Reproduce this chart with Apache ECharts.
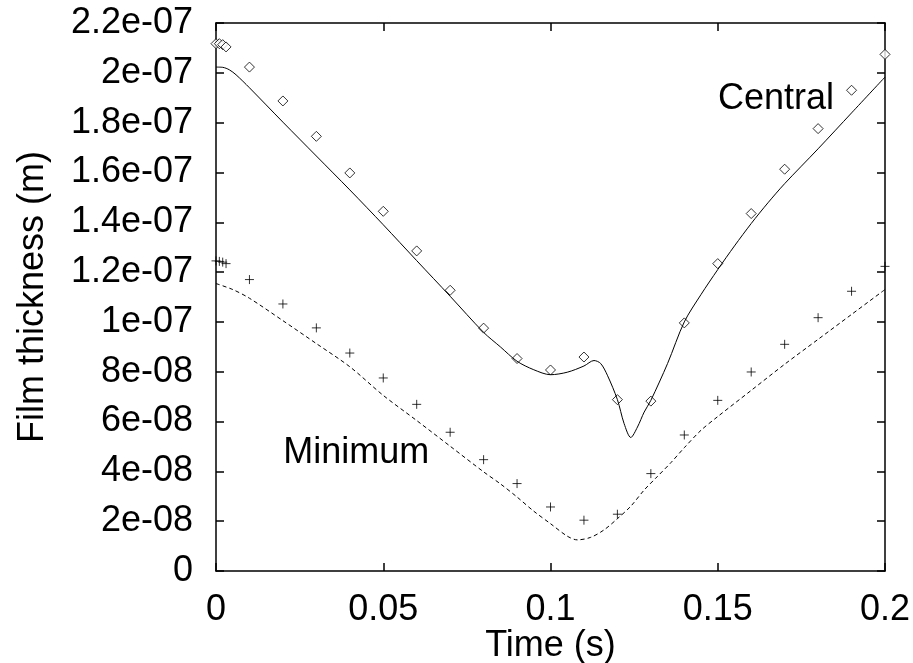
<!DOCTYPE html>
<html>
<head>
<meta charset="utf-8">
<script src="https://cdn.jsdelivr.net/npm/echarts@6/dist/echarts.min.js"></script>
<style>
  html, body { margin: 0; padding: 0; background: #fff; }
  #chart { width: 913px; height: 663px; }
</style>
</head>
<body>
<div id="chart"></div>
<script>
// measured points (diamonds / crosses), time in s, thickness in m
const pointTimes = [0, 0.001, 0.002, 0.003, 0.01, 0.02, 0.03, 0.04, 0.05, 0.06, 0.07, 0.08,
  0.09, 0.1, 0.11, 0.12, 0.13, 0.14, 0.15, 0.16, 0.17, 0.18, 0.19, 0.2];
const centralPoints = [21.17e-8, 21.17e-8, 21.13e-8, 21.04e-8, 20.23e-8, 18.87e-8, 17.45e-8, 15.98e-8,
  14.44e-8, 12.85e-8, 11.27e-8, 9.75e-8, 8.53e-8, 8.07e-8, 8.59e-8, 6.88e-8, 6.82e-8, 9.96e-8,
  12.34e-8, 14.35e-8, 16.13e-8, 17.76e-8, 19.3e-8, 20.74e-8];
const minimumPoints = [12.45e-8, 12.43e-8, 12.4e-8, 12.34e-8, 11.7e-8, 10.72e-8, 9.76e-8, 8.75e-8,
  7.75e-8, 6.69e-8, 5.57e-8, 4.47e-8, 3.51e-8, 2.57e-8, 2.04e-8, 2.28e-8, 3.91e-8, 5.46e-8,
  6.85e-8, 7.99e-8, 9.1e-8, 10.17e-8, 11.23e-8, 12.23e-8];

// computed curves
const centralTimes = [0, 0.002, 0.004, 0.006, 0.01, 0.02, 0.03, 0.04, 0.05, 0.06, 0.07, 0.08, 0.085,
  0.09, 0.095, 0.1, 0.105, 0.11, 0.113, 0.115, 0.117, 0.12, 0.122, 0.124, 0.126, 0.128, 0.13,
  0.135, 0.14, 0.145, 0.15, 0.155, 0.16, 0.165, 0.17, 0.18, 0.19, 0.2];
const centralCurve = [20.23e-8, 20.22e-8, 20.12e-8, 19.92e-8, 19.4e-8, 18.02e-8, 16.66e-8, 15.3e-8,
  13.9e-8, 12.46e-8, 11.03e-8, 9.58e-8, 9.0e-8, 8.42e-8, 8.08e-8, 7.88e-8, 7.98e-8, 8.23e-8,
  8.45e-8, 8.33e-8, 7.86e-8, 6.88e-8, 5.92e-8, 5.36e-8, 5.78e-8, 6.38e-8, 6.85e-8, 8.33e-8,
  10.0e-8, 11.1e-8, 12.1e-8, 13.05e-8, 13.95e-8, 14.78e-8, 15.55e-8, 16.95e-8, 18.39e-8, 19.83e-8];
const minimumTimes = [0, 0.005, 0.01, 0.02, 0.03, 0.04, 0.05, 0.06, 0.07, 0.08, 0.085, 0.09, 0.095,
  0.1, 0.105, 0.108, 0.112, 0.116, 0.12, 0.124, 0.128, 0.132, 0.136, 0.14, 0.145, 0.15, 0.16,
  0.17, 0.18, 0.19, 0.2];
const minimumCurve = [11.54e-8, 11.3e-8, 10.95e-8, 10.05e-8, 9.13e-8, 8.2e-8, 7.05e-8, 6.04e-8,
  5.01e-8, 3.98e-8, 3.5e-8, 2.97e-8, 2.4e-8, 1.9e-8, 1.4e-8, 1.25e-8, 1.35e-8, 1.65e-8, 2.1e-8,
  2.6e-8, 3.25e-8, 3.8e-8, 4.35e-8, 4.95e-8, 5.65e-8, 6.2e-8, 7.25e-8, 8.3e-8, 9.3e-8, 10.3e-8,
  11.3e-8];

const yTickLabels = ['0', '2e-08', '4e-08', '6e-08', '8e-08', '1e-07', '1.2e-07', '1.4e-07',
  '1.6e-07', '1.8e-07', '2e-07', '2.2e-07'];
const xTickLabels = ['0', '0.05', '0.1', '0.15', '0.2'];

const zip = (xs, ys) => xs.map((x, i) => [x, ys[i]]);
const font = 'Liberation Sans';

let chart = echarts.init(document.getElementById('chart'));

const tickStyle = { inside: true, length: 8, lineStyle: { color: '#000', width: 1.5 } };
const lineStyle = { onZero: false, lineStyle: { color: '#000', width: 1.5 } };

chart.setOption({
  animation: false,
  backgroundColor: '#fff',
  grid: { left: 216, right: 28, top: 23, bottom: 92, outerBoundsMode: 'none', containLabel: false },
  xAxis: [
    {
      type: 'value', min: 0, max: 0.2, interval: 0.05,
      name: 'Time (s)', nameLocation: 'middle', nameGap: 57, nameMoveOverlap: false,
      nameTextStyle: { color: '#000', fontSize: 36, fontFamily: font },
      axisLine: lineStyle, axisTick: tickStyle, splitLine: { show: false },
      axisLabel: {
        color: '#000', fontSize: 36, fontFamily: font, margin: 21,
        formatter: v => xTickLabels[Math.round(v / 0.05)]
      }
    },
    {
      type: 'value', min: 0, max: 0.2, interval: 0.05, position: 'top',
      axisLine: lineStyle, axisTick: tickStyle, splitLine: { show: false },
      axisLabel: { show: false }
    }
  ],
  yAxis: [
    {
      type: 'value', min: 0, max: 2.2e-7, interval: 2e-8,
      name: 'Film thickness (m)', nameLocation: 'middle', nameGap: 165, nameMoveOverlap: false,
      nameTextStyle: { color: '#000', fontSize: 36, fontFamily: font },
      axisLine: lineStyle, axisTick: tickStyle, splitLine: { show: false },
      axisLabel: {
        color: '#000', fontSize: 36, fontFamily: font, margin: 23,
        formatter: v => yTickLabels[Math.round(v / 2e-8)]
      }
    },
    {
      type: 'value', min: 0, max: 2.2e-7, interval: 2e-8, position: 'right',
      axisLine: lineStyle, axisTick: tickStyle, splitLine: { show: false },
      axisLabel: { show: false }
    }
  ],
  series: [
    {
      name: 'Central curve', type: 'line', data: zip(centralTimes, centralCurve),
      showSymbol: false, smooth: 0.3,
      lineStyle: { color: '#000', width: 1 }
    },
    {
      name: 'Minimum curve', type: 'line', data: zip(minimumTimes, minimumCurve),
      showSymbol: false, smooth: 0.3,
      lineStyle: { color: '#000', width: 1, type: [4, 3] }
    },
    {
      name: 'Central', type: 'scatter', data: zip(pointTimes, centralPoints),
      symbol: 'diamond', symbolSize: 10,
      itemStyle: { color: '#fff', borderColor: '#000', borderWidth: 1 }
    },
    {
      name: 'Minimum', type: 'scatter', data: zip(pointTimes, minimumPoints),
      symbol: 'path://M0 5 L10 5 M5 0 L5 10', symbolSize: 9,
      itemStyle: { color: 'none', borderColor: '#000', borderWidth: 1 }
    }
  ]
});

// curve names, anchored in data space
const notes = [
  { text: 'Central', at: [0.1674, 18.93e-8] },
  { text: 'Minimum', at: [0.0419, 4.74e-8] }
];
chart.setOption({
  graphic: notes.map(n => {
    const p = chart.convertToPixel({ gridIndex: 0 }, n.at);
    return {
      type: 'text', x: p[0], y: p[1],
      style: { text: n.text, fill: '#000', font: '36px "' + font + '"', align: 'center', verticalAlign: 'middle' }
    };
  })
});
</script>
</body>
</html>
